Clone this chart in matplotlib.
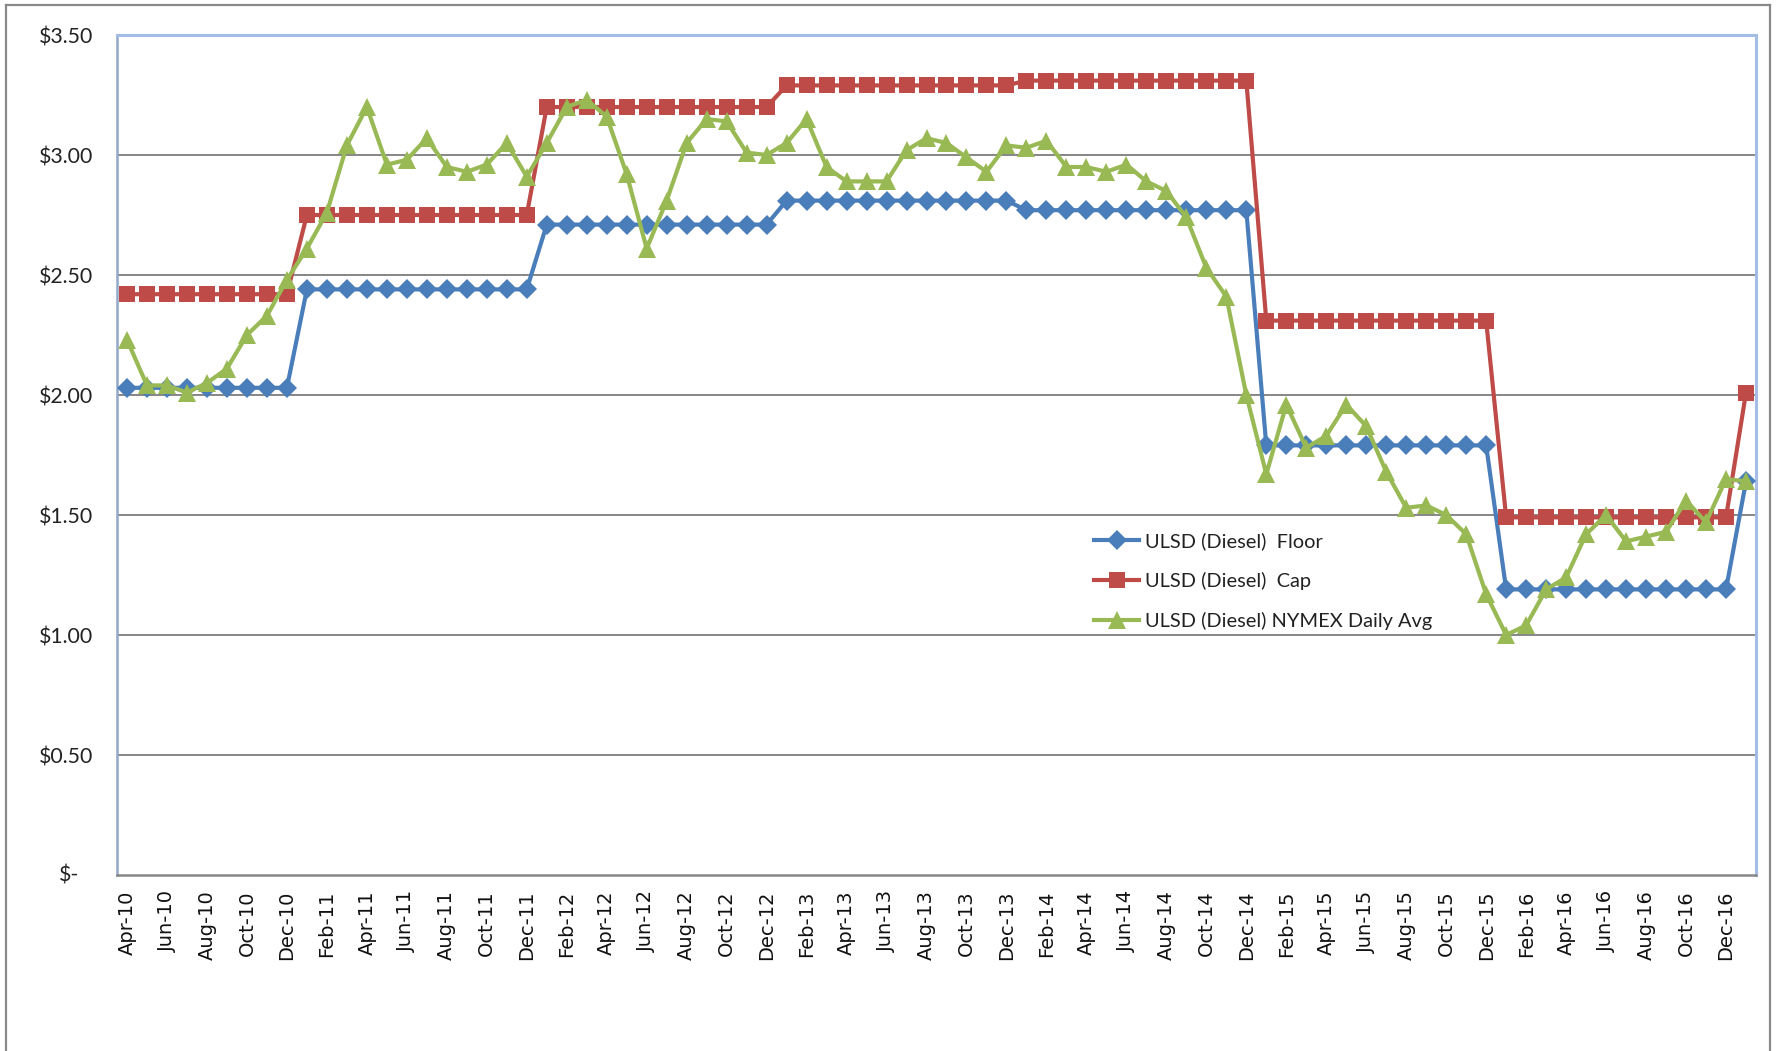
import numpy as np
import pandas as pd
import matplotlib
matplotlib.use("Agg")
import matplotlib.pyplot as plt
from matplotlib.lines import Line2D
from matplotlib.ticker import FixedLocator

# monthly points Apr-10 .. Jan-17
months = pd.date_range("2010-04-01", periods=82, freq="MS").strftime("%b-%y").tolist()

floor = [2.03, 2.03, 2.03, 2.03, 2.03, 2.03, 2.03, 2.03, 2.03,
         2.44, 2.44, 2.44, 2.44, 2.44, 2.44, 2.44, 2.44, 2.44, 2.44, 2.44, 2.44,
         2.71, 2.71, 2.71, 2.71, 2.71, 2.71, 2.71, 2.71, 2.71, 2.71, 2.71, 2.71,
         2.81, 2.81, 2.81, 2.81, 2.81, 2.81, 2.81, 2.81, 2.81, 2.81, 2.81, 2.81,
         2.77, 2.77, 2.77, 2.77, 2.77, 2.77, 2.77, 2.77, 2.77, 2.77, 2.77, 2.77,
         1.79, 1.79, 1.79, 1.79, 1.79, 1.79, 1.79, 1.79, 1.79, 1.79, 1.79, 1.79,
         1.19, 1.19, 1.19, 1.19, 1.19, 1.19, 1.19, 1.19, 1.19, 1.19, 1.19, 1.19,
         1.64]

cap = [2.42, 2.42, 2.42, 2.42, 2.42, 2.42, 2.42, 2.42, 2.42,
       2.75, 2.75, 2.75, 2.75, 2.75, 2.75, 2.75, 2.75, 2.75, 2.75, 2.75, 2.75,
       3.20, 3.20, 3.20, 3.20, 3.20, 3.20, 3.20, 3.20, 3.20, 3.20, 3.20, 3.20,
       3.29, 3.29, 3.29, 3.29, 3.29, 3.29, 3.29, 3.29, 3.29, 3.29, 3.29, 3.29,
       3.31, 3.31, 3.31, 3.31, 3.31, 3.31, 3.31, 3.31, 3.31, 3.31, 3.31, 3.31,
       2.31, 2.31, 2.31, 2.31, 2.31, 2.31, 2.31, 2.31, 2.31, 2.31, 2.31, 2.31,
       1.49, 1.49, 1.49, 1.49, 1.49, 1.49, 1.49, 1.49, 1.49, 1.49, 1.49, 1.49,
       2.01]

nymex = [2.23, 2.04, 2.04, 2.01, 2.05, 2.11, 2.25, 2.33, 2.48,
         2.61, 2.76, 3.04, 3.20, 2.96, 2.98, 3.07, 2.95, 2.93, 2.96, 3.05, 2.91,
         3.05, 3.20, 3.23, 3.16, 2.92, 2.61, 2.81, 3.05, 3.15, 3.14, 3.01, 3.00,
         3.05, 3.15, 2.95, 2.89, 2.89, 2.89, 3.02, 3.07, 3.05, 2.99, 2.93, 3.04,
         3.03, 3.06, 2.95, 2.95, 2.93, 2.96, 2.89, 2.85, 2.74, 2.53, 2.41, 2.00,
         1.67, 1.96, 1.78, 1.83, 1.96, 1.87, 1.68, 1.53, 1.54, 1.50, 1.42, 1.17,
         1.00, 1.04, 1.19, 1.24, 1.42, 1.50, 1.39, 1.41, 1.43, 1.56, 1.47, 1.65,
         1.64]

yticks = [0.0, 0.5, 1.0, 1.5, 2.0, 2.5, 3.0, 3.5]

blue = "#4A7EBB"
red = "#BE4B48"
green = "#98B954"
grid_c = "#868686"

W, H = 1777, 1051
fig = plt.figure(figsize=(W / 100, H / 100), dpi=100)
ax = fig.add_axes([117 / W, 1 - 875 / H, (1756 - 117) / W, (875 - 35) / H])

x = np.arange(len(months))
ax.plot(x, floor, color=blue, lw=3, marker="D", ms=10.5, mew=0, zorder=3,
        label="ULSD (Diesel)  Floor")
ax.plot(x, cap, color=red, lw=3, marker="s", ms=11.5, mew=0, zorder=4,
        label="ULSD (Diesel)  Cap")
ax.plot(x, nymex, color=green, lw=3, marker="^", ms=12.5, mew=0, zorder=5,
        label="ULSD (Diesel) NYMEX Daily Avg")

ax.set_xlim(-0.5, len(months) - 0.5)
ax.set_ylim(0, 3.5)

ax.yaxis.set_major_locator(FixedLocator(yticks))
ax.set_yticklabels(["" if v == 0 else "${:.2f}".format(v) for v in yticks],
                   family="Lato", fontsize=15.3)
# zero label in accounting style sits further left
ax.text(-38 / (1756 - 117), 0, "$-", transform=ax.get_yaxis_transform(),
        ha="right", va="center", family="Lato", fontsize=15.3, color="#222222")
ax.tick_params(axis="y", length=0, pad=17, colors="#222222")

ax.set_xticks(x[::2])
ax.set_xticklabels(months[::2], rotation=90, family="DejaVu Sans", fontsize=14)
ax.tick_params(axis="x", length=0, pad=11, colors="#111111")

for v in yticks[1:-1]:
    ax.axhline(v, color=grid_c, lw=1.4, zorder=1)

for side in ["top", "right"]:
    ax.spines[side].set_color("#A5BDE4")
    ax.spines[side].set_linewidth(2.2)
ax.spines["left"].set_color("#93A8C8")
ax.spines["left"].set_linewidth(1.8)
ax.spines["bottom"].set_color(grid_c)
ax.spines["bottom"].set_linewidth(1.8)

leg = ax.legend(loc="upper left", bbox_to_anchor=(1094 / W, 1 - 532 / H),
                bbox_transform=fig.transFigure, frameon=False, borderpad=0,
                borderaxespad=0, handlelength=2.25, handletextpad=0.3,
                labelspacing=1.1, prop={"family": "Lato", "size": 14.4})
for t in leg.get_texts():
    t.set_color("#222222")

# outer chart border
fig.add_artist(Line2D([6 / W, 6 / W], [0, 1 - 5 / H], color="#8A8A8A", lw=1.6,
                      transform=fig.transFigure))
fig.add_artist(Line2D([6 / W, 1770 / W], [1 - 5 / H, 1 - 5 / H], color="#8A8A8A",
                      lw=1.6, transform=fig.transFigure))
fig.add_artist(Line2D([1770 / W, 1770 / W], [0, 1 - 5 / H], color="#8A8A8A", lw=1.6,
                      transform=fig.transFigure))

fig.savefig("out.png", dpi=100, facecolor="white")
